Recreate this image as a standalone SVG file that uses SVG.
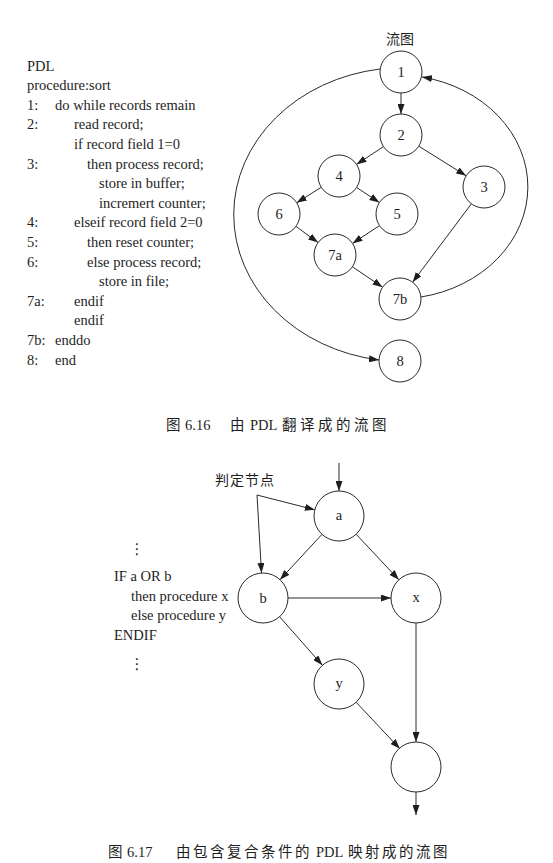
<svg xmlns="http://www.w3.org/2000/svg" width="553" height="863" viewBox="0 0 553 863">
<style>
.bg{fill:#ffffff}
.t{font-family:"Liberation Serif","Times New Roman",serif;font-size:14.5px;fill:#1e1e1e}
.c{font-family:"Liberation Serif","Noto Sans CJK SC",serif;font-size:14px;fill:#1e1e1e}
.cap{font-family:"Liberation Serif","Noto Sans CJK SC",serif;font-size:14.5px;fill:#1e1e1e}
.cj{letter-spacing:2.5px}
.lbl{font-family:"Liberation Serif","Times New Roman",serif;font-size:14.5px;fill:#1e1e1e;text-anchor:middle}
.dots{font-family:"DejaVu Sans",sans-serif;font-size:15px;fill:#1e1e1e;text-anchor:middle}
.n{fill:#ffffff;stroke:#2a2a2a;stroke-width:1}
.e{fill:none;stroke:#2a2a2a;stroke-width:1;marker-end:url(#ah)}
.l{fill:none;stroke:#2a2a2a;stroke-width:1}
</style>
<defs>
<marker id="ah" markerUnits="userSpaceOnUse" markerWidth="10" markerHeight="7" refX="10" refY="3.5" orient="auto">
<path d="M0,0 L10,3.5 L0,7 z" fill="#1e1e1e"/>
</marker>
</defs>
<rect class="bg" x="0" y="0" width="553" height="863"/>

<g id="pdl-code" class="t">
<text x="27" y="70.5">PDL</text>
<text x="27" y="90.1">procedure:sort</text>
<text x="27" y="109.7">1:</text><text x="55" y="109.7">do while records remain</text>
<text x="27" y="129.3">2:</text><text x="74" y="129.3">read record;</text>
<text x="74" y="148.9">if record field 1=0</text>
<text x="27" y="168.5">3:</text><text x="87" y="168.5">then process record;</text>
<text x="99" y="188.1">store in buffer;</text>
<text x="99" y="207.7">incremert counter;</text>
<text x="27" y="227.3">4:</text><text x="74" y="227.3">elseif record field 2=0</text>
<text x="27" y="246.9">5:</text><text x="87" y="246.9">then reset counter;</text>
<text x="27" y="266.5">6:</text><text x="87" y="266.5">else process record;</text>
<text x="99" y="286.1">store in file;</text>
<text x="27" y="305.7">7a:</text><text x="74" y="305.7">endif</text>
<text x="74" y="325.3">endif</text>
<text x="27" y="344.9">7b:</text><text x="55" y="344.9">enddo</text>
<text x="27" y="364.5">8:</text><text x="55" y="364.5">end</text>
</g>

<text id="flow-title" class="c" x="400" y="44" text-anchor="middle">流图</text>

<g id="connectors-top">
<line class="e" x1="401" y1="93" x2="401" y2="114"/>
<line class="e" x1="383.5" y1="146.6" x2="356.5" y2="164.4"/>
<line class="e" x1="418.8" y1="146.2" x2="466.2" y2="175.8"/>
<line class="e" x1="321.3" y1="187.2" x2="296.7" y2="202.8"/>
<line class="e" x1="356.6" y1="187.5" x2="379.4" y2="202.5"/>
<line class="e" x1="296" y1="226.4" x2="318.1" y2="242.6"/>
<line class="e" x1="379.5" y1="225.6" x2="352.5" y2="243.4"/>
<line class="e" x1="352.4" y1="266.8" x2="382.6" y2="287.2"/>
<line class="e" x1="471.4" y1="203.8" x2="412.6" y2="282.2"/>
<path class="e" d="M380,69 A170,147 0 0 0 379,360"/>
<path class="e" d="M421,297 A131,112 0 0 0 422,77"/>
</g>

<g id="node-1"><circle class="n" cx="401" cy="72" r="21"/><text class="lbl" x="401" y="77">1</text></g>
<g id="node-2"><circle class="n" cx="401" cy="135" r="21"/><text class="lbl" x="401" y="140">2</text></g>
<g id="node-4"><circle class="n" cx="339" cy="176" r="21"/><text class="lbl" x="339" y="181">4</text></g>
<g id="node-3"><circle class="n" cx="484" cy="187" r="21"/><text class="lbl" x="484" y="192">3</text></g>
<g id="node-6"><circle class="n" cx="279" cy="214" r="21"/><text class="lbl" x="279" y="219">6</text></g>
<g id="node-5"><circle class="n" cx="397" cy="214" r="21"/><text class="lbl" x="397" y="219">5</text></g>
<g id="node-7a"><circle class="n" cx="335" cy="255" r="21"/><text class="lbl" x="335" y="260">7a</text></g>
<g id="node-7b"><circle class="n" cx="400" cy="299" r="21"/><text class="lbl" x="400" y="304">7b</text></g>
<g id="node-8"><circle class="n" cx="400" cy="361" r="21"/><text class="lbl" x="400" y="366">8</text></g>

<text id="caption-1" class="cap" y="430"><tspan x="166">图</tspan><tspan x="185">6.16</tspan><tspan x="230">由</tspan><tspan x="250">PDL</tspan><tspan x="282" class="cj" style="letter-spacing:3.5px">翻译成的流图</tspan></text>

<g id="if-code" class="t">
<text class="dots" x="137" y="554">⋮</text>
<text x="114" y="581">IF a OR b</text>
<text x="131" y="600.7">then procedure x</text>
<text x="131" y="620.3">else procedure y</text>
<text x="114" y="640">ENDIF</text>
<text class="dots" x="137" y="669">⋮</text>
</g>

<text id="decision-label" class="c" x="215" y="485" style="letter-spacing:1px">判定节点</text>

<g id="connectors-bottom">
<polyline class="e" points="257,495 314.8,509.8"/>
<polyline class="e" points="257,495 261.5,573"/>
<line class="e" x1="339" y1="463" x2="339" y2="491"/>
<line class="e" x1="322" y1="534.3" x2="280" y2="579.7"/>
<line class="e" x1="356.1" y1="534.2" x2="398.9" y2="579.8"/>
<line class="e" x1="288" y1="598" x2="391" y2="598"/>
<line class="e" x1="279.6" y1="616.7" x2="322.4" y2="665.3"/>
<line class="e" x1="356.1" y1="702.2" x2="399.9" y2="748.8"/>
<line class="e" x1="416" y1="623" x2="416" y2="742"/>
<line class="e" x1="416" y1="792" x2="416" y2="815"/>
</g>

<g id="node-a"><circle class="n" cx="339" cy="516" r="25"/><text class="lbl" x="339" y="520">a</text></g>
<g id="node-b"><circle class="n" cx="263" cy="598" r="25"/><text class="lbl" x="263" y="603">b</text></g>
<g id="node-x"><circle class="n" cx="416" cy="598" r="25"/><text class="lbl" x="416" y="602">x</text></g>
<g id="node-y"><circle class="n" cx="339" cy="684" r="25"/><text class="lbl" x="339" y="688">y</text></g>
<g id="node-join"><circle class="n" cx="416" cy="767" r="25"/></g>

<text id="caption-2" class="cap" y="857"><tspan x="108">图</tspan><tspan x="127">6.17</tspan><tspan x="176" class="cj">由包含复合条件的</tspan><tspan x="316">PDL</tspan><tspan x="348" class="cj">映射成的流图</tspan></text>
</svg>
